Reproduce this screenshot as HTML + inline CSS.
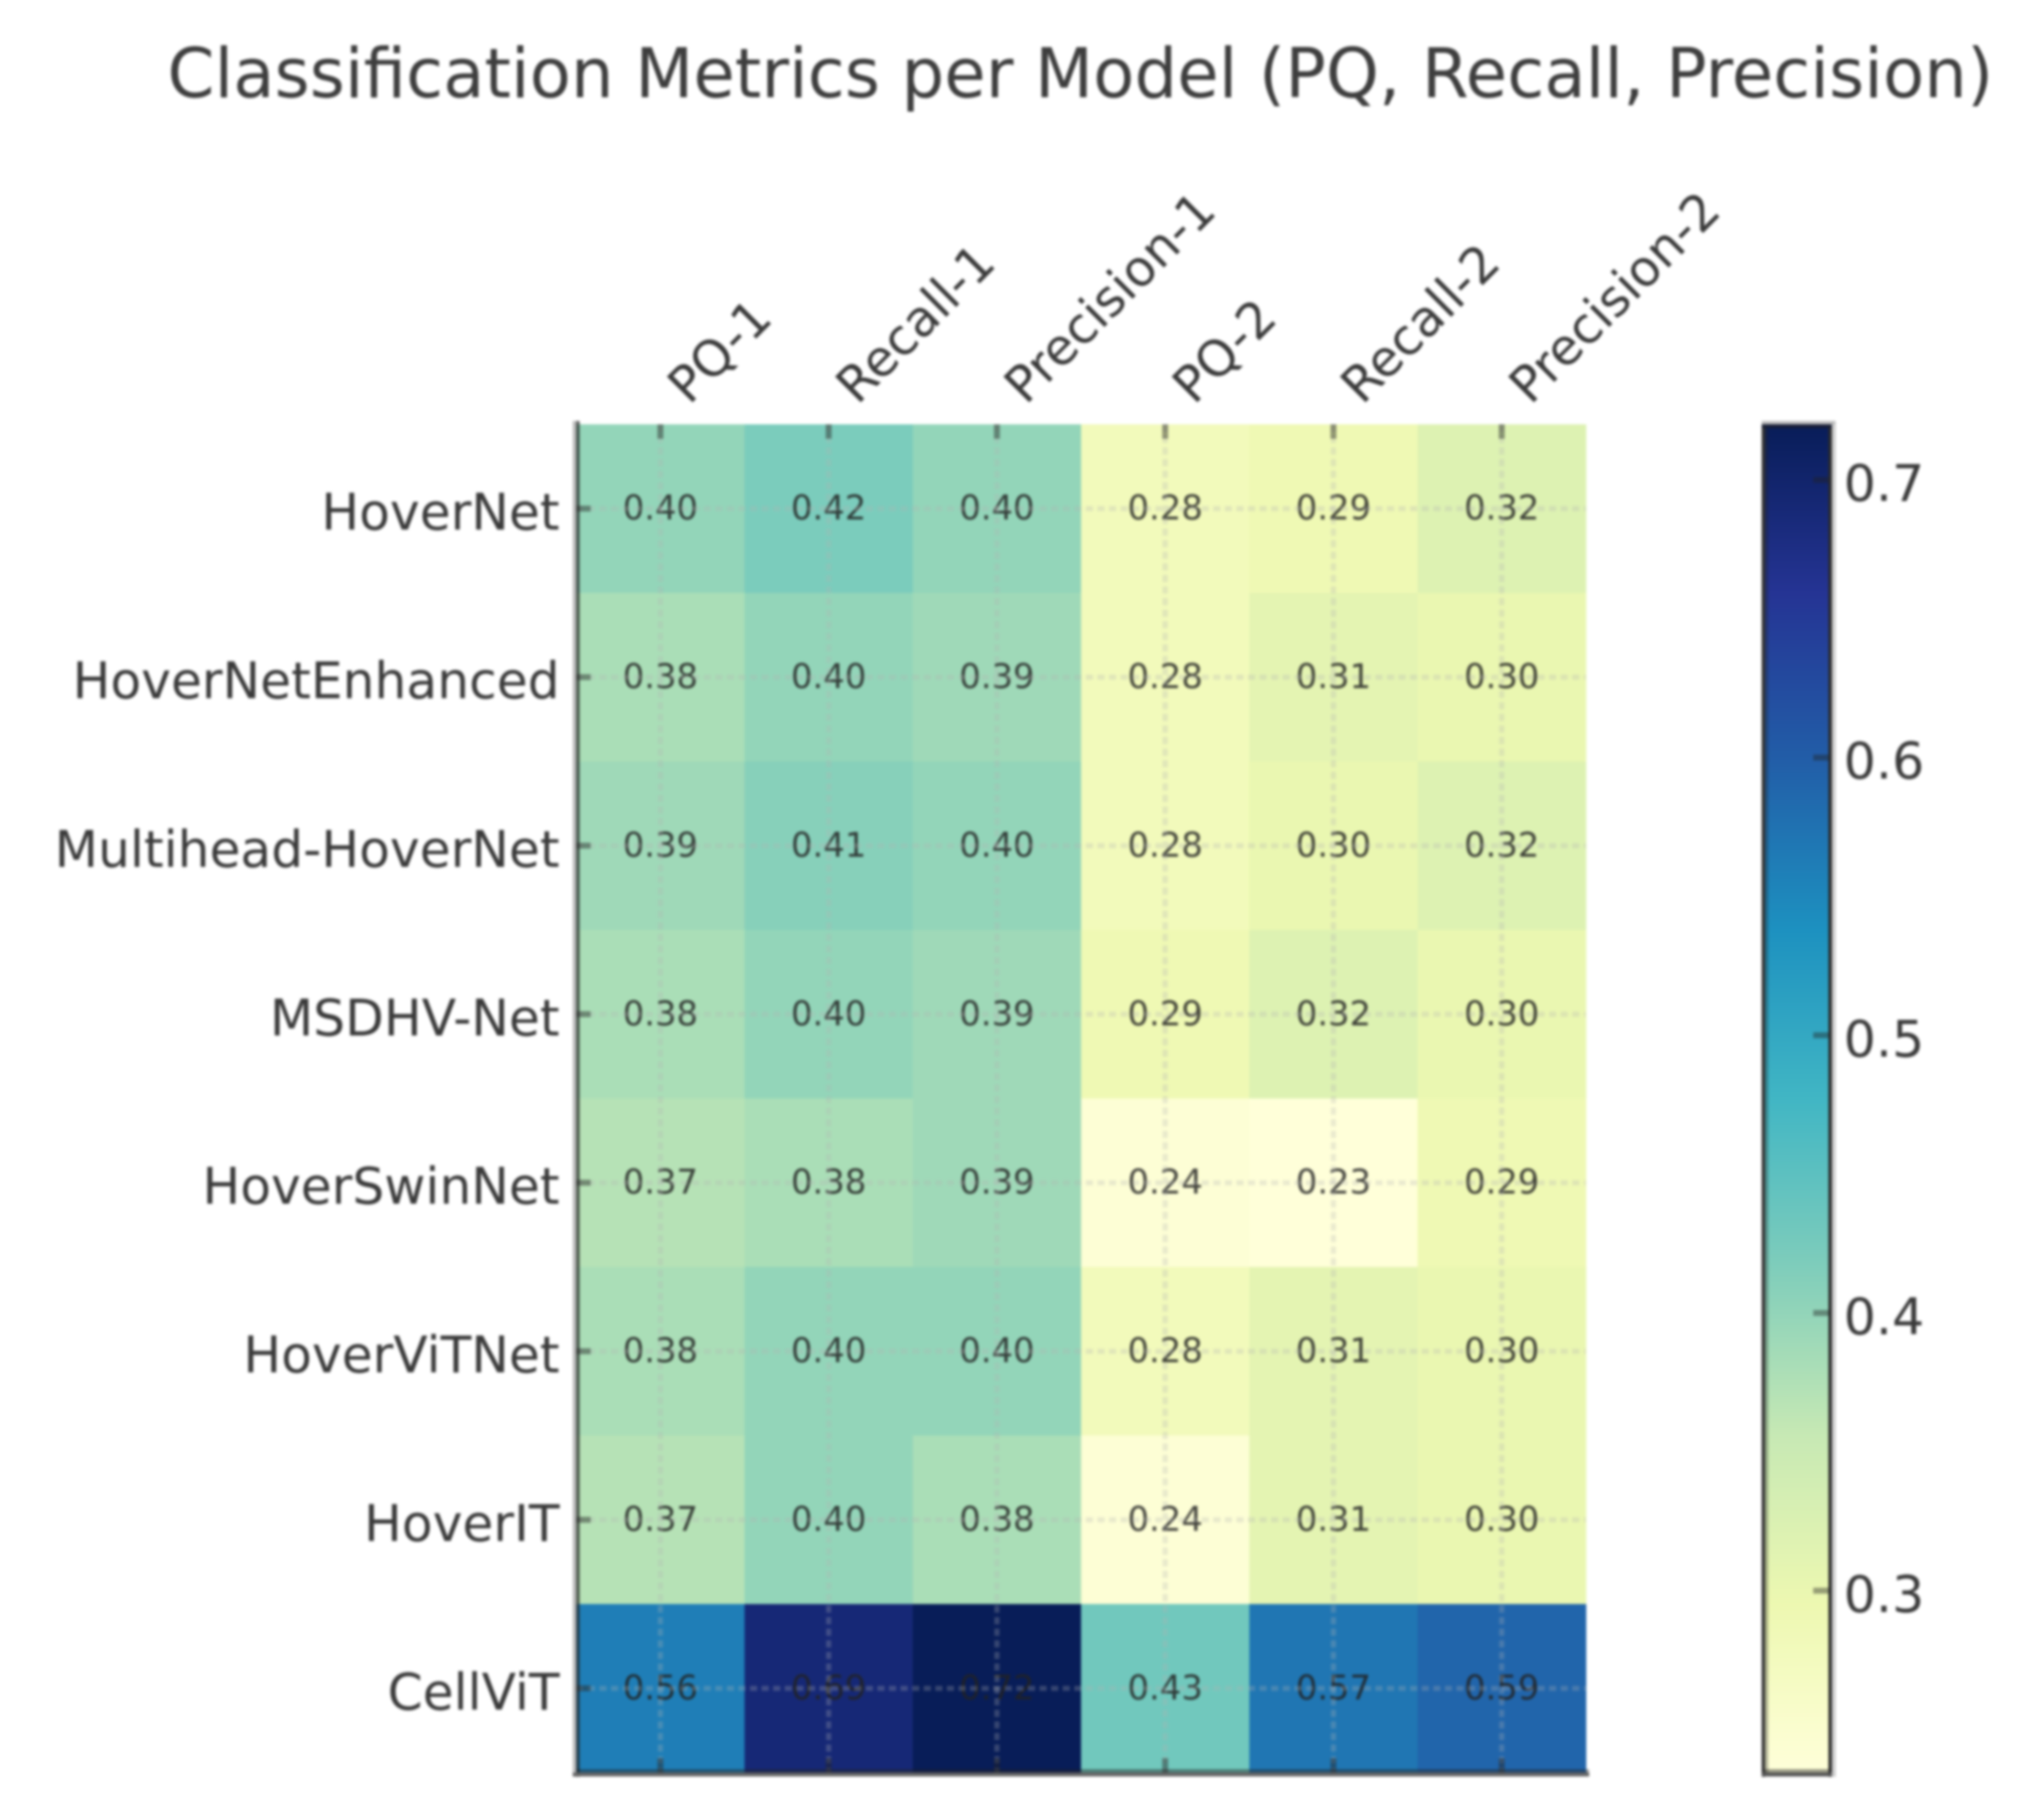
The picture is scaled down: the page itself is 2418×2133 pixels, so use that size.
<!DOCTYPE html>
<html lang="en">
<head>
<meta charset="utf-8">
<title>Classification Metrics per Model</title>
<style>
html,body{margin:0;padding:0;background:#fff;width:2418px;height:2133px;overflow:hidden}
svg{display:block;filter:blur(1.5px)}
text{font-family:"DejaVu Sans","Liberation Sans",sans-serif}
</style>
</head>
<body>
<svg id="chart" xmlns="http://www.w3.org/2000/svg" width="2418" height="2133" viewBox="0 0 2418 2133">
  <rect x="0" y="0" width="2418" height="2133" fill="#ffffff"/>
  <text x="198" y="115" font-size="81" textLength="2160" lengthAdjust="spacingAndGlyphs" fill="#3e3e3e">Classification Metrics per Model (PQ, Recall, Precision)</text>
  <g id="cells"></g>
  <g id="values"></g>
  <g id="grid"></g>
  <g id="ticks"></g>
  <g id="xlabels"></g>
  <g id="ylabels"></g>
  <g>
    <rect x="677.5" y="498" width="4.2" height="1604" fill="#bcbcbc"/>
    <rect x="681.7" y="498" width="4" height="1604" fill="#222222" fill-opacity="0.72"/>
    <rect x="681.7" y="2093" width="1198" height="4" fill="#222222" fill-opacity="0.45"/>
    <rect x="677.5" y="2097" width="1202.5" height="4.6" fill="#666666"/>
  </g>
  <defs>
    <linearGradient id="cbGradient" x1="0" y1="1" x2="0" y2="0"></linearGradient>
  </defs>
  <g id="colorbar"></g>
</svg>
<script>
const models = ["HoverNet", "HoverNetEnhanced", "Multihead-HoverNet", "MSDHV-Net", "HoverSwinNet", "HoverViTNet", "HoverIT", "CellViT"];
const metrics = ["PQ-1", "Recall-1", "Precision-1", "PQ-2", "Recall-2", "Precision-2"];
const rowHoverNet = [0.40, 0.42, 0.40, 0.28, 0.29, 0.32];
const rowHoverNetEnhanced = [0.38, 0.40, 0.39, 0.28, 0.31, 0.30];
const rowMultihead = [0.39, 0.41, 0.40, 0.28, 0.30, 0.32];
const rowMSDHV = [0.38, 0.40, 0.39, 0.29, 0.32, 0.30];
const rowHoverSwin = [0.37, 0.38, 0.39, 0.24, 0.23, 0.29];
const rowHoverViT = [0.38, 0.40, 0.40, 0.28, 0.31, 0.30];
const rowHoverIT = [0.37, 0.40, 0.38, 0.24, 0.31, 0.30];
const rowCellViT = [0.56, 0.69, 0.72, 0.43, 0.57, 0.59];
const values = [rowHoverNet, rowHoverNetEnhanced, rowMultihead, rowMSDHV, rowHoverSwin, rowHoverViT, rowHoverIT, rowCellViT];
const colorbarTicks = [0.3, 0.4, 0.5, 0.6, 0.7];
const colorDomain = [0.2345, 0.72];
const colormapAnchors = ["#ffffd9", "#edf8b1", "#c7e9b4", "#7fcdbb", "#41b6c4", "#1d91c0", "#225ea8", "#253494", "#081d58"];

const NS = "http://www.w3.org/2000/svg";
const plot = { left: 681.7, right: 1876, top: 502, bottom: 2097 };
const bar = { left: 2088, right: 2167, top: 502, bottom: 2097 };
const colWidth = (plot.right - plot.left) / metrics.length;
const rowHeight = (plot.bottom - plot.top) / models.length;

function xScale(i) { return plot.left + colWidth * i; }
function yScale(i) { return plot.top + rowHeight * i; }
function barScale(v) {
  return bar.bottom - (v - colorDomain[0]) / (colorDomain[1] - colorDomain[0]) * (bar.bottom - bar.top);
}
function hexToRgb(h) {
  return [parseInt(h.slice(1, 3), 16), parseInt(h.slice(3, 5), 16), parseInt(h.slice(5, 7), 16)];
}
function colormap(v) {
  let t = (v - colorDomain[0]) / (colorDomain[1] - colorDomain[0]);
  t = Math.max(0, Math.min(1, t)) * (colormapAnchors.length - 1);
  const i = Math.min(Math.floor(t), colormapAnchors.length - 2);
  const f = t - i;
  const a = hexToRgb(colormapAnchors[i]);
  const b = hexToRgb(colormapAnchors[i + 1]);
  return "rgb(" + a.map(function (c, k) { return Math.round(c + (b[k] - c) * f); }).join(",") + ")";
}
function make(tag, attrs, parent) {
  const el = document.createElementNS(NS, tag);
  Object.keys(attrs).forEach(function (k) { el.setAttribute(k, attrs[k]); });
  parent.appendChild(el);
  return el;
}

const cellsG = document.getElementById("cells");
const valuesG = document.getElementById("values");
const gridG = document.getElementById("grid");
const ticksG = document.getElementById("ticks");
const xlabelsG = document.getElementById("xlabels");
const ylabelsG = document.getElementById("ylabels");
const colorbarG = document.getElementById("colorbar");
const gradient = document.getElementById("cbGradient");

values.forEach(function (row, r) {
  row.forEach(function (v, c) {
    const cell = make("rect", { x: xScale(c), y: yScale(r), width: colWidth + 0.5, height: rowHeight + 0.5, fill: colormap(v) }, cellsG);
    
    
    const label = make("text", { x: xScale(c + 0.5), y: yScale(r + 0.5) + 13, "font-size": 40, "text-anchor": "middle", fill: "#222222", "fill-opacity": 0.85 }, valuesG);
    label.textContent = v.toFixed(2);
    
    
  });
});

metrics.forEach(function (name, c) {
  const x = xScale(c + 0.5);
  const line = make("line", { x1: x, x2: x, y1: plot.top, y2: plot.bottom, stroke: "#b4b4b4", "stroke-opacity": 0.28, "stroke-width": 6, "stroke-dasharray": "8.5 5.2" }, gridG);
  
  
  const topTick = make("rect", { x: x - 3.5, y: plot.top, width: 7, height: 17, fill: "#222222", "fill-opacity": 0.45 }, ticksG);
  
  
  const bottomTick = make("rect", { x: x - 3.5, y: plot.bottom - 17, width: 7, height: 17, fill: "#222222", "fill-opacity": 0.45 }, ticksG);
  
  
  const label = make("text", { transform: "translate(" + (x + 34) + "," + 480 + ") rotate(-45)", "font-size": 59, fill: "#3a3a3a" }, xlabelsG);
  label.textContent = name;
  
  
});

models.forEach(function (name, r) {
  const y = yScale(r + 0.5);
  const line = make("line", { x1: plot.left, x2: plot.right, y1: y, y2: y, stroke: "#b4b4b4", "stroke-opacity": 0.28, "stroke-width": 6, "stroke-dasharray": "8.5 5.2" }, gridG);
  
  
  const tick = make("rect", { x: plot.left, y: y - 3.5, width: 17, height: 7, fill: "#222222", "fill-opacity": 0.45 }, ticksG);
  
  
  const label = make("text", { x: 662, y: y + 25, "font-size": 59.5, "text-anchor": "end", fill: "#3a3a3a" }, ylabelsG);
  label.textContent = name;
  
  
});

colormapAnchors.forEach(function (color, i) {
  make("stop", { offset: i / (colormapAnchors.length - 1), "stop-color": color }, gradient);
});

const ramp = make("rect", { x: bar.left, y: bar.top, width: bar.right - bar.left, height: bar.bottom - bar.top, fill: "url(#cbGradient)" }, colorbarG);



colorbarTicks.forEach(function (v) {
  const y = barScale(v);
  const tick = make("rect", { x: bar.right - 22, y: y - 3.5, width: 18, height: 7, fill: "#222222", "fill-opacity": 0.42 }, colorbarG);
  
  
  const label = make("text", { x: 2181, y: y + 25, "font-size": 60, fill: "#3a3a3a" }, colorbarG);
  label.textContent = v.toFixed(1);
  
  
});

const frame = [
  { x: 2084, y: 498, w: 4, h: 1604, fill: "#333333", op: 1 },
  { x: 2088, y: 506, w: 4, h: 1591, fill: "#222222", op: 0.3 },
  { x: 2163, y: 498, w: 4, h: 1604, fill: "#2a2a2a", op: 1 },
  { x: 2167, y: 498, w: 4.6, h: 1604, fill: "#cccccc", op: 1 },
  { x: 2084, y: 498, w: 87, h: 4, fill: "#bbbbbb", op: 1 },
  { x: 2084, y: 502, w: 83, h: 4.5, fill: "#1a1f33", op: 0.9 },
  { x: 2088, y: 2093, w: 75, h: 4, fill: "#222222", op: 0.45 },
  { x: 2084, y: 2097, w: 83, h: 4.6, fill: "#555555", op: 1 }
];
frame.forEach(function (f) {
  const edge = make("rect", { x: f.x, y: f.y, width: f.w, height: f.h, fill: f.fill, "fill-opacity": f.op }, colorbarG);
  
  
});
</script>
</body>
</html>
